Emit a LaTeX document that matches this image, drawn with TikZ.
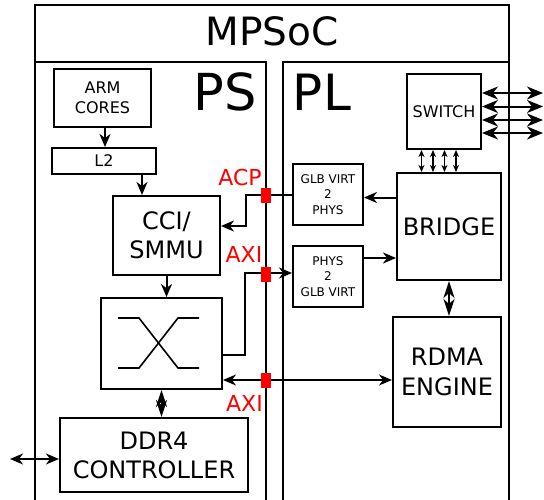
\documentclass[tikz,border=0pt]{standalone}
\usepackage{fontspec}
\setmainfont{DejaVu Sans}
\usetikzlibrary{arrows.meta}
\begin{document}
\begin{tikzpicture}[x=1pt,y=-1pt,
  lw/.style={line width=2pt},
  box/.style={draw, lw, align=center, inner sep=0pt},
  tip/.tip={Stealth[length=13pt,width=11pt,inset=4pt]},
  arr/.style={lw, -tip},
  darr/.style={lw, tip-tip},
  barr/.style={lw, {Stealth[length=16pt,width=13pt,inset=5pt]}-{Stealth[length=16pt,width=13pt,inset=5pt]}},
  sarr/.style={line width=1.5pt, {Stealth[length=7pt,width=6pt,inset=2pt]}-{Stealth[length=7pt,width=6pt,inset=2pt]}},
  dmd/.style={lw, {Stealth[length=17pt,width=11pt,inset=5pt]}-{Stealth[length=17pt,width=11pt,inset=5pt]}},
  port/.style={fill=red, draw=none, minimum width=10pt, minimum height=15pt, inner sep=0pt},
  lbl/.style={text=red, font=\fontsize{22}{24}\selectfont, inner sep=0pt, anchor=base}
]
\useasboundingbox (0,0) rectangle (544,499);
% containers
\draw[lw] (35,500) -- (35,5) -- (509,5) -- (509,500);
\draw[lw] (35,500) -- (35,62) -- (266,62) -- (266,500);
\draw[lw] (283,500) -- (283,62) -- (509,62) -- (509,500);
\node[inner sep=0pt, anchor=base, font=\fontsize{39}{40}\selectfont] (title) at (272,45) {MPSoC};
\node[inner sep=0pt, anchor=base, font=\fontsize{51}{52}\selectfont] (ps) at (225.5,110) {PS};
\node[inner sep=0pt, anchor=base, font=\fontsize{50}{52}\selectfont] (pl) at (322,110) {PL};
% boxes
\node[box, minimum width=97pt, minimum height=58pt, font=\fontsize{16}{20}\selectfont] (arm) at (102.5,98) {ARM\\CORES};
\node[box, minimum width=104pt, minimum height=26pt, font=\fontsize{16}{20}\selectfont] (l2) at (104,161) {L2};
\node[box, minimum width=107pt, minimum height=79pt, font=\fontsize{24}{29}\selectfont] (cci) at (166.5,235.5) {CCI/\\SMMU};
\node[box, minimum width=121pt, minimum height=91pt] (xbar) at (161.5,343.5) {};
\node[box, minimum width=188pt, minimum height=74pt, font=\fontsize{24}{29}\selectfont] (ddr) at (154,455) {DDR4\\CONTROLLER};
\node[box, minimum width=70pt, minimum height=61pt, font=\fontsize{12}{15.5}\selectfont] (glb) at (328,194.5) {GLB VIRT\\2\\PHYS};
\node[box, minimum width=70pt, minimum height=61pt, font=\fontsize{12}{15.5}\selectfont] (phys) at (328,276.5) {PHYS\\2\\GLB VIRT};
\node[box, minimum width=74pt, minimum height=75pt, font=\fontsize{16}{20}\selectfont] (sw) at (444,111.5) {SWITCH};
\node[box, minimum width=104pt, minimum height=107pt, font=\fontsize{24}{29}\selectfont] (bridge) at (449,226.5) {BRIDGE};
\node[box, minimum width=108pt, minimum height=110pt, font=\fontsize{24}{30}\selectfont] (rdma) at (447,372) {RDMA\\ENGINE};
% crossbar symbol
\begin{scope}[shift={(xbar.center)}]
\draw[line width=1.6pt] (-43.5,-25.5) -- (-22.5,-25.5) -- (16.5,24.5) -- (37.5,24.5);
\draw[line width=1.6pt] (-43.5,24.5) -- (-22.5,24.5) -- (16.5,-25.5) -- (37.5,-25.5);
\end{scope}
% PS connectors
\draw[arr] ([xshift=2.5pt]arm.south) -- ([xshift=2.5pt]arm.south |- l2.north);
\draw[arr] ([xshift=38pt]l2.south) -- ([xshift=38pt]l2.south |- cci.north);
\draw[arr] (cci.south) -- (cci.south |- xbar.north);
\draw[dmd] (xbar.south) -- (xbar.south |- ddr.north);
\coordinate (ext) at (10,459);
\draw[darr] (ext) -- (ext -| ddr.west);
% cross connectors
\draw[arr] (glb.west) -- ([xshift=-46pt]glb.west) |- ([yshift=9.5pt]cci.east);
\draw[arr] ([yshift=-11.5pt]xbar.east) -- ++(22,0) |- ([yshift=3.5pt]phys.west);
\draw[darr] ([yshift=-36.5pt]xbar.east) -- ([yshift=-36.5pt]xbar.east -| rdma.west);
% PL connectors
\draw[arr] ([yshift=-3pt]glb.east -| bridge.west) -- ([yshift=-3pt]glb.east);
\draw[arr] ([yshift=18.5pt]phys.east) -- ([yshift=18.5pt]phys.east -| bridge.west);
\draw[dmd] (bridge.south) -- (bridge.south |- rdma.north);
\foreach \dx in {-22.5,-11,0.5,12}
  \draw[sarr] ([xshift=\dx pt]sw.south) -- ([xshift=\dx pt]sw.south |- bridge.north);
\foreach \dy/\n in {18.5/a,5/b,-8.5/c,-21.5/d}{
  \coordinate (out\n) at ([yshift=\dy pt]sw.east -| 543,0);
  \draw[barr] ([yshift=\dy pt]sw.east) -- (out\n);
}
% ports
\node[port] (acp) at (266,195.5) {};
\node[port] (axi1) at (266,274) {};
\node[port] (axi2) at (266,380) {};
\node[lbl] (acpl) at (240,185) {ACP};
\node[lbl] (axil1) at (244,262) {AXI};
\node[lbl] (axil2) at (244.5,411) {AXI};
\end{tikzpicture}
\end{document}
